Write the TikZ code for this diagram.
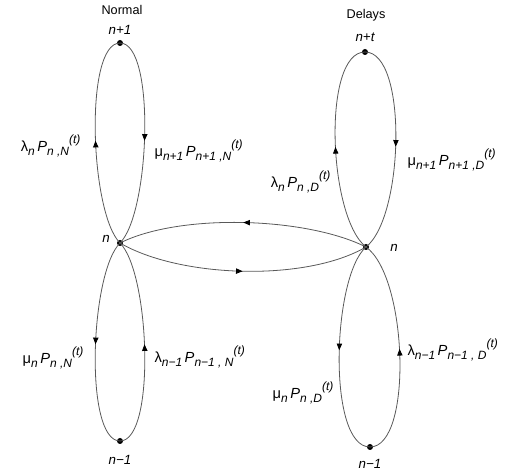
\documentclass[tikz,border=0pt]{standalone}
\usepackage{fontspec}
\setmainfont{Liberation Sans}
\usetikzlibrary{arrows.meta,decorations.markings}

\newcommand{\rlo}[1]{\raisebox{-0.5ex}{\fontsize{9}{10}\selectfont\itshape #1}}
\newcommand{\rhi}[1]{\raisebox{0.95ex}{\fontsize{9}{10}\selectfont\itshape #1}}
\newcommand{\rate}[3]{#1\rlo{#2}\,\textit{P}\rlo{#3}\rhi{(t)}}

\begin{document}
\begin{tikzpicture}[
    x=0.75pt, y=-0.75pt,
    font=\fontsize{9.5}{11}\selectfont,
    dot/.style={circle, fill=black, inner sep=0pt, minimum size=4.5pt},
    edge/.style={draw=black!65, line width=0.6pt},
    mid/.style={postaction={decorate}, decoration={markings,
        mark=at position 0.5 with {\arrow[black]{Triangle[length=5pt,width=4pt]}}}},
    state/.style={font=\fontsize{10}{11}\selectfont\itshape, inner sep=1pt},
    rate/.style={inner sep=1pt, font=\fontsize{11}{12}\selectfont}
]
\useasboundingbox (0,0) rectangle (514,473);

% states
\node[dot] (topL) at (120,43) {};
\node[dot] (nL) at (120,243) {};
\node[dot] (botL) at (120,441) {};
\node[dot] (topR) at (365,52) {};
\node[dot] (nR) at (366,247) {};
\node[dot] (botR) at (370,447) {};

\node (normal) at (122,10) {Normal};
\node (delays) at (366,15) {Delays};
\node[state] (lTopL) at (120,30) {n+1};
\node[state] (lTopR) at (365,37) {n+t};
\node[state] (lnL) at (106,239) {n};
\node[state] (lnR) at (394,248) {n};
\node[state] (lBotL) at (120,460) {n−1};
\node[state] (lBotR) at (370,464) {n−1};

% rates
\node[rate, anchor=east] (lamNup) at (82,146) {\rate{λ}{n}{n ,N}};
\node[rate, anchor=west] (muNup) at (153,151) {\rate{μ}{n+1}{n+1 ,N}};
\node[rate, anchor=east] (lamDup) at (332,182) {\rate{λ}{n}{n ,D}};
\node[rate, anchor=west] (muDup) at (406,160) {\rate{μ}{n+1}{n+1 ,D}};
\node[rate, anchor=east] (muNlo) at (85,358) {\rate{μ}{n}{n ,N}};
\node[rate, anchor=west] (lamNlo) at (153,357) {\rate{λ}{n−1}{n−1 , N}};
\node[rate, anchor=east] (muDlo) at (335,393) {\rate{μ}{n}{n ,D}};
\node[rate, anchor=west] (lamDlo) at (406,350) {\rate{λ}{n−1}{n−1 , D}};

% normal loops
\draw[edge, mid] (nL.center) .. controls +(-30,-30) and +(-36,0) .. (topL.center);
\draw[edge, mid] (topL.center) .. controls +(36,0) and +(30,-30) .. (nL.center);
\draw[edge, mid] (nL.center) .. controls +(-30,30) and +(-36,0) .. (botL.center);
\draw[edge, mid] (botL.center) .. controls +(36,0) and +(30,30) .. (nL.center);

% delay loops
\draw[edge, mid] (nR.center) .. controls +(-38,-30) and +(-43,0) .. (topR.center);
\draw[edge, mid] (topR.center) .. controls +(43,0) and +(38,-30) .. (nR.center);
\draw[edge, mid] (nR.center) .. controls +(-34,30) and +(-43,0) .. (botR.center);
\draw[edge, mid] (botR.center) .. controls +(43,0) and +(42,30) .. (nR.center);

% switching between normal and delays
\draw[edge, mid] (nR.center) .. controls +(-60,-30) and +(60,-30) .. (nL.center);
\draw[edge, mid] (nL.center) .. controls +(60,35) and +(-60,35) .. (nR.center);

\end{tikzpicture}
\end{document}
